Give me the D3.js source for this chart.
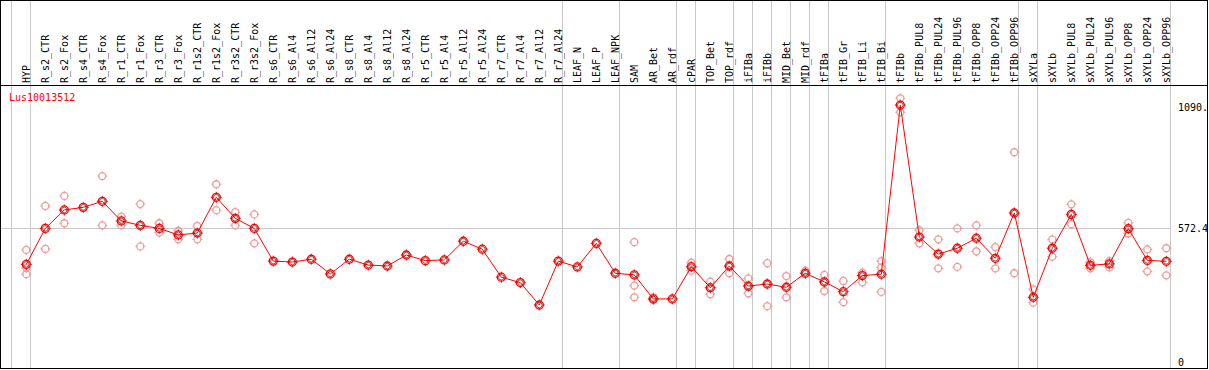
<!DOCTYPE html>
<html>
<head>
<meta charset="utf-8">
<script src="https://cdn.jsdelivr.net/npm/d3@7"></script>
<style>
  body { margin: 0; background: #fff; }
  text { font-family: "DejaVu Sans Mono", monospace; font-size: 10px; }
</style>
</head>
<body>
<script>
// sample names, left to right
const samples = ["HYP", "R_s2_CTR", "R_s2_Fox", "R_s4_CTR", "R_s4_Fox", "R_r1_CTR", "R_r1_Fox",
  "R_r3_CTR", "R_r3_Fox", "R_r1s2_CTR", "R_r1s2_Fox", "R_r3s2_CTR", "R_r3s2_Fox", "R_s6_CTR",
  "R_s6_Al4", "R_s6_Al12", "R_s6_Al24", "R_s8_CTR", "R_s8_Al4", "R_s8_Al12", "R_s8_Al24",
  "R_r5_CTR", "R_r5_Al4", "R_r5_Al12", "R_r5_Al24", "R_r7_CTR", "R_r7_Al4", "R_r7_Al12",
  "R_r7_Al24", "LEAF_N", "LEAF_P", "LEAF_NPK", "SAM", "AR_Bet", "AR_rdf", "cPAR", "TOP_Bet",
  "TOP_rdf", "iFIBa", "iFIBb", "MID_Bet", "MID_rdf", "tFIBa", "tFIB_Gr", "tFIB_Li", "tFIB_Bi",
  "tFIBb", "tFIBb_PUL8", "tFIBb_PUL24", "tFIBb_PUL96", "tFIBb_OPP8", "tFIBb_OPP24", "tFIBb_OPP96",
  "sXYLa", "sXYLb", "sXYLb_PUL8", "sXYLb_PUL24", "sXYLb_PUL96", "sXYLb_OPP8", "sXYLb_OPP24",
  "sXYLb_OPP96"];

// mean expression per sample
const means = [418, 572, 651, 662, 688, 604, 585, 572, 544, 552, 705, 615, 572, 432,
  428, 440, 377, 440, 415, 411, 458, 434, 437, 517, 483, 363, 340, 244,
  432, 407, 508, 380, 373, 270, 270, 408, 318, 411, 325, 334, 320, 380,
  343, 301, 370, 376, 1100, 535, 462, 487, 530, 444, 638, 277, 487, 632,
  414, 420, 571, 435, 431];

// single replicates
const replicates = [
  [480, 402, 376], [668, 484], [711, 594], [], [796, 585], [622, 585], [676, 495],
  [594, 554], [562, 525], [582, 525], [761, 650], [642, 585], [632, 508], [],
  [], [], [], [], [], [], [],
  [], [], [], [], [], [], [],
  [], [], [], [], [513, 327, 277], [277, 266], [], [425, 391], [344, 290],
  [441, 380], [358, 294], [423, 239], [368, 277], [391], [373, 304], [347, 256],
  [382, 341], [432, 404, 300], [1129, 1069], [564, 508], [525, 401], [572, 407], [585, 474],
  [492, 401], [898, 380], [311, 254], [525, 451], [675, 590], [428, 401], [432, 405],
  [596, 551], [482, 388], [487, 371]];

// after these sample indices a grey separator is drawn
const groupEnds = [-1, 0, 28, 31, 34, 35, 37, 38, 39, 40, 41, 42, 45, 52, 53, 60];

const yTicks = [0, 572.4, 1090];
const yTickLabels = ["0", "572.4", "1090."];
const geneName = "Lus10013512";

function marker(g, cx, cy, color, r) {
  g.append("circle")
    .attr("cx", cx).attr("cy", cy).attr("r", r)
    .attr("fill", "none").attr("stroke", color).attr("stroke-width", 1.3);
  g.append("path")
    .attr("d", `M${cx},${cy - r - 1.5}v2M${cx},${cy + r - 0.5}v2M${cx - r - 1.5},${cy}h2M${cx + r - 0.5},${cy}h2`)
    .attr("stroke", color).attr("stroke-width", 1);
}

function main() {
  const W = 1209, H = 370;
  const svg = d3.select("body").append("svg")
    .attr("width", W).attr("height", H);

  const x = d3.scaleBand()
    .domain(samples)
    .range([16.8, 16.8 + samples.length * 19]);
  const cx = i => x(samples[i]) + x.bandwidth() / 2;

  const y = d3.scaleLinear()
    .domain([0, 1090])
    .range([362, 107.4]);

  // grey separators
  svg.selectAll(".sep")
    .data(groupEnds)
    .enter().append("line")
    .attr("class", "sep")
    .attr("x1", d => Math.round((d < 0 ? cx(0) - 19 : cx(d)) + 4) + 0.5)
    .attr("x2", d => Math.round((d < 0 ? cx(0) - 19 : cx(d)) + 4) + 0.5)
    .attr("y1", 0).attr("y2", 368)
    .attr("stroke", "#c8c8c8");

  // mid grid line
  svg.append("line")
    .attr("x1", 1).attr("x2", 1170.5)
    .attr("y1", Math.round(y(572.4)) + 0.5).attr("y2", Math.round(y(572.4)) + 0.5)
    .attr("stroke", "#c8c8c8");

  // frame
  svg.append("rect")
    .attr("x", 0.5).attr("y", 0.5).attr("width", 1207).attr("height", 368)
    .attr("fill", "none").attr("stroke", "#000");
  svg.append("line")
    .attr("x1", 0).attr("x2", 1208).attr("y1", 85.5).attr("y2", 85.5)
    .attr("stroke", "#000");

  // sample labels
  svg.selectAll(".lab")
    .data(samples)
    .enter().append("text")
    .attr("class", "lab")
    .attr("transform", (d, i) => `translate(${cx(i) + 3.2},83) rotate(-90)`)
    .text(d => d);

  svg.append("text")
    .attr("x", 9).attr("y", 101)
    .attr("fill", "#f00")
    .text(geneName);

  // right axis
  const yAxis = d3.axisRight(y)
    .tickValues(yTicks)
    .tickSize(0)
    .tickPadding(0)
    .tickFormat((d, i) => yTickLabels[i]);
  const gY = svg.append("g")
    .attr("transform", "translate(1178,0)")
    .call(yAxis);
  gY.select(".domain").remove();
  gY.selectAll("text")
    .attr("font-family", "DejaVu Sans Mono")
    .attr("font-size", 10)
    .attr("fill", "#000");

  // replicate points
  const reps = svg.append("g");
  replicates.forEach((vals, i) => {
    vals.forEach(v => marker(reps, cx(i), y(v), "#ee9c9c", 3.5));
  });

  // mean line
  const line = d3.line()
    .x((d, i) => cx(i))
    .y(d => y(d));
  svg.append("path")
    .datum(means)
    .attr("d", line)
    .attr("fill", "none")
    .attr("stroke", "#f00")
    .attr("stroke-width", 1);

  // mean points
  const pts = svg.append("g");
  means.forEach((v, i) => {
    marker(pts, cx(i), y(v), "#f00", 4);
    pts.append("circle")
      .attr("cx", cx(i)).attr("cy", y(v)).attr("r", 2.8)
      .attr("fill", "none").attr("stroke", "#700").attr("stroke-width", 0.7);
  });
}

main();
</script>
</body>
</html>
